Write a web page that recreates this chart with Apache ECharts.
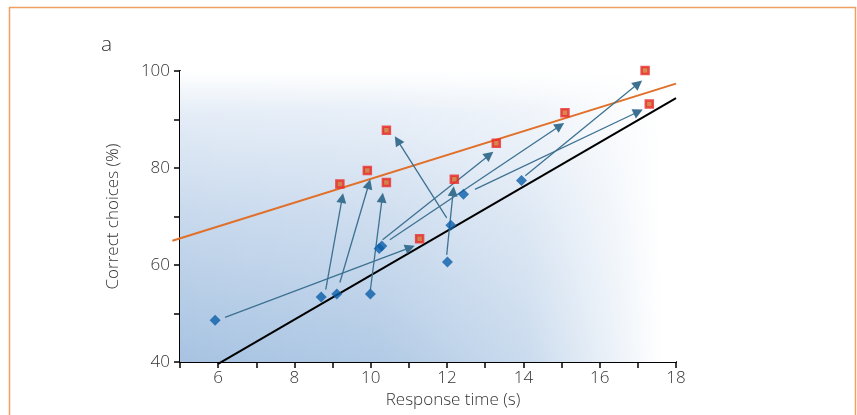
<!DOCTYPE html>
<html>
<head>
<meta charset="utf-8">
<script src="https://cdn.jsdelivr.net/npm/echarts@6/dist/echarts.min.js"></script>
<style>html,body{margin:0;padding:0;background:#fff}#c{width:857px;height:415px}</style>
</head>
<body>
<div id="c"></div>
<script>
// Data
const blueX = [5.92, 8.70, 9.11, 9.99, 10.22, 10.29, 12.10, 12.01, 12.43, 13.95];
const blueY = [48.6, 53.4, 54.0, 54.0, 63.4, 63.9, 68.2, 60.6, 74.6, 77.4];
const redX = [9.19, 9.91, 10.41, 10.41, 11.28, 12.19, 13.29, 15.09, 17.19, 17.30];
const redY = [76.7, 79.5, 77.0, 87.8, 65.4, 77.7, 85.1, 91.4, 100.1, 93.2];
const arrowFromX = [6.18, 8.82, 9.19, 9.99, 10.31, 10.50, 11.99, 11.99, 12.73, 14.05];
const arrowFromY = [49.2, 54.9, 56.4, 54.9, 65.2, 65.2, 69.7, 62.1, 75.6, 78.4];
const arrowToX = [11.03, 9.25, 9.95, 10.30, 13.11, 14.96, 10.70, 12.16, 17.01, 17.01];
const arrowToY = [63.6, 73.8, 76.7, 73.9, 82.7, 88.7, 85.7, 75.2, 91.6, 97.4];
const orangeLineX = [4.80, 18];
const orangeLineY = [65.0, 97.4];
const blackLineX = [6.0, 18];
const blackLineY = [39.6, 94.4];
const xTickLabels = [6, 8, 10, 12, 14, 16, 18];
const yTickLabels = [40, 60, 80, 100];

const font = '"Open Sans", Roboto, sans-serif';
const txt = { fontFamily: font, fontSize: 17, fontWeight: 300, color: '#333' };
const chart = echarts.init(document.getElementById('c'));
const zip = (xs, ys) => xs.map((x, i) => [x, ys[i]]);

chart.setOption({
  animation: false,
  title: {
    text: 'a', left: 96, top: 30,
    textStyle: Object.assign({}, txt, { fontSize: 21 })
  },
  graphic: [{
    type: 'rect', silent: true,
    shape: { x: 9.5, y: 7.5, width: 846, height: 430 },
    style: { fill: 'none', stroke: '#f0a060', lineWidth: 1.5 }
  }],
  grid: { left: 180, right: 181, top: 71, bottom: 53 },
  xAxis: {
    type: 'value', min: 5, max: 18, interval: 1,
    name: 'Response time (s)', nameLocation: 'middle', nameGap: 24,
    nameTextStyle: Object.assign({}, txt, { padding: [0, 0, 0, 50] }),
    axisLine: { lineStyle: { color: '#000', width: 2 } },
    axisTick: { length: 6, lineStyle: { color: '#000', width: 1.5 } },
    axisLabel: Object.assign({ margin: 8, formatter: v => xTickLabels.includes(v) ? String(v) : '' }, txt),
    splitLine: { show: false }
  },
  yAxis: {
    type: 'value', min: 40, max: 100, interval: 10,
    name: 'Correct choices (%)', nameLocation: 'middle', nameGap: 58,
    nameTextStyle: txt,
    axisLine: { show: true, lineStyle: { color: '#000', width: 2 } },
    axisTick: { show: true, length: 6, lineStyle: { color: '#000', width: 1.5 } },
    axisLabel: Object.assign({ margin: 10, formatter: v => yTickLabels.includes(v) ? String(v) : '' }, txt),
    splitLine: { show: false }
  },
  series: [
    {
      type: 'line', data: [], z: 0, silent: true,
      markArea: {
        silent: true,
        itemStyle: {
          color: new echarts.graphic.LinearGradient(0, 0, 0, 1, [
            { offset: 0, color: '#ffffff' },
            { offset: 0.05, color: '#f6f9fc' },
            { offset: 0.14, color: '#e5edf7' },
            { offset: 0.5, color: '#c8d9ed' },
            { offset: 1, color: '#a7c3e2' }
          ])
        },
        data: [[{ coord: [5, 100] }, { coord: [18, 40] }]]
      }
    },
    {
      type: 'line', data: [], z: 1, silent: true,
      markArea: {
        silent: true,
        itemStyle: {
          color: new echarts.graphic.LinearGradient(0, 0, 1, 0, [
            { offset: 0, color: 'rgba(255,255,255,0)' },
            { offset: 0.4, color: 'rgba(255,255,255,0.12)' },
            { offset: 0.7, color: 'rgba(255,255,255,0.4)' },
            { offset: 0.86, color: 'rgba(255,255,255,0.75)' },
            { offset: 0.97, color: 'rgba(255,255,255,1)' },
            { offset: 1, color: 'rgba(255,255,255,1)' }
          ])
        },
        data: [[{ coord: [5, 100] }, { coord: [18, 40] }]]
      }
    },
    {
      type: 'lines', coordinateSystem: 'cartesian2d', z: 3, clip: false, silent: true,
      symbol: 'none',
      lineStyle: { color: '#e0702a', width: 2, opacity: 1 },
      data: [{ coords: zip(orangeLineX, orangeLineY) }]
    },
    {
      type: 'lines', coordinateSystem: 'cartesian2d', z: 3, clip: false, silent: true,
      symbol: 'none',
      lineStyle: { color: '#000', width: 2, opacity: 1 },
      data: [{ coords: zip(blackLineX, blackLineY) }]
    },
    {
      type: 'lines', coordinateSystem: 'cartesian2d', z: 4, silent: true, clip: false,
      symbol: ['none', 'triangle'], symbolSize: 10,
      lineStyle: { color: '#3d7191', width: 1.3, opacity: 1 },
      data: arrowFromX.map((x, i) => ({ coords: [[x, arrowFromY[i]], [arrowToX[i], arrowToY[i]]] }))
    },
    {
      type: 'scatter', z: 5, clip: false, silent: true,
      symbol: 'diamond', symbolSize: 11,
      itemStyle: { color: '#0b5ea9' },
      data: zip(blueX, blueY)
    },
    {
      type: 'scatter', z: 5, clip: false, silent: true,
      symbol: 'rect', symbolSize: 7,
      itemStyle: { color: '#cf6a25', borderColor: '#ea2a2a', borderWidth: 2.5 },
      data: zip(redX, redY)
    }
  ]
});
</script>
</body>
</html>
